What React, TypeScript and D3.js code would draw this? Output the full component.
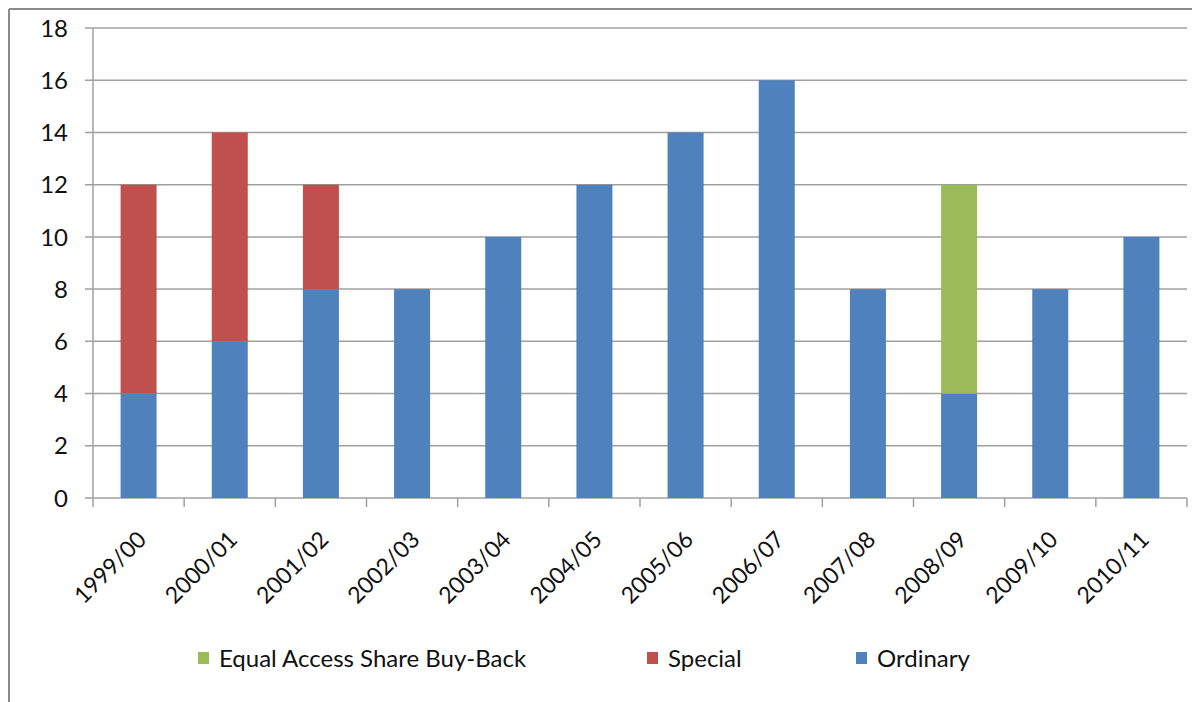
import React from "react";
import * as d3 from "d3";

const categories = [
  "1999/00", "2000/01", "2001/02", "2002/03", "2003/04", "2004/05",
  "2005/06", "2006/07", "2007/08", "2008/09", "2009/10", "2010/11",
];
const ordinary = [4, 6, 8, 8, 10, 12, 14, 16, 8, 4, 8, 10];
const special = [8, 8, 4, 0, 0, 0, 0, 0, 0, 0, 0, 0];
const buyBack = [0, 0, 0, 0, 0, 0, 0, 0, 0, 8, 0, 0];
const yTicks = [0, 2, 4, 6, 8, 10, 12, 14, 16, 18];

const seriesNames = ["Ordinary", "Special", "Equal Access Share Buy-Back"];
const colors: Record<string, string> = {
  Ordinary: "#4F81BD",
  Special: "#C0504D",
  "Equal Access Share Buy-Back": "#9BBB59",
};
const legendOrder = ["Equal Access Share Buy-Back", "Special", "Ordinary"];

const W = 1192;
const H = 702;
const margin = { left: 93, right: 5, top: 28, bottom: 204 };
const font = "Lato, 'Open Sans', sans-serif";

export default function App() {
  const table = categories.map((c, i) => ({
    cat: c,
    Ordinary: ordinary[i],
    Special: special[i],
    "Equal Access Share Buy-Back": buyBack[i],
  }));
  const stack = d3.stack<any>().keys(seriesNames)(table);

  // band scale for category slots, bars are ~40% of a slot
  const x = d3
    .scaleBand()
    .domain(categories)
    .range([margin.left, W - margin.right])
    .paddingInner(0)
    .paddingOuter(0);
  const y = d3
    .scaleLinear()
    .domain([0, 18])
    .range([H - margin.bottom, margin.top]);

  const x0 = margin.left;
  const x1 = W - margin.right;
  const step = x.step();
  const bw = step * 0.395;
  const center = (c: string) => (x(c) ?? 0) + step / 2;

  const legendX = [198, 647, 856];

  return (
    <svg
      width={W}
      height={H}
      style={{ position: "absolute", left: 0, top: 0, background: "#fff" }}
      fontFamily={font}
    >
      {/* frame */}
      <line x1={9} x2={W} y1={9} y2={9} stroke="#8a8a8a" strokeWidth={2} />
      <line x1={9} x2={9} y1={9} y2={H} stroke="#8a8a8a" strokeWidth={2} />

      {/* gridlines + y labels */}
      {yTicks.map((t) => (
        <g key={t}>
          <line x1={85} x2={x1} y1={y(t)} y2={y(t)} stroke="#a0a0a0" strokeWidth={1.5} />
          <text x={68} y={y(t)} dy="0.36em" textAnchor="end" fontSize={24} fill="#111">
            {t}
          </text>
        </g>
      ))}
      {/* y axis */}
      <line x1={x0} x2={x0} y1={y(18)} y2={y(0) + 9} stroke="#a0a0a0" strokeWidth={1.5} />
      {/* category ticks */}
      {categories.map((c) => (
        <line
          key={c}
          x1={(x(c) ?? 0) + step}
          x2={(x(c) ?? 0) + step}
          y1={y(0)}
          y2={y(0) + 9}
          stroke="#a0a0a0"
          strokeWidth={1.5}
        />
      ))}

      {/* bars */}
      {stack.map((s) =>
        s.map((d, i) =>
          d[1] - d[0] > 0 ? (
            <rect
              key={s.key + i}
              x={center(categories[i]) - bw / 2}
              y={y(d[1])}
              width={bw}
              height={y(d[0]) - y(d[1])}
              fill={colors[s.key]}
            />
          ) : null
        )
      )}

      {/* x labels */}
      {categories.map((c) => (
        <text
          key={c}
          transform={`translate(${center(c) + 9},${y(0) + 43}) rotate(-45)`}
          textAnchor="end"
          fontSize={23}
          fill="#111"
        >
          {c}
        </text>
      ))}

      {/* legend */}
      {legendOrder.map((k, i) => (
        <g key={k} transform={`translate(${legendX[i]},658)`}>
          <rect x={0} y={-6} width={11} height={12} fill={colors[k]} />
          <text x={21} y={0} dy="0.36em" fontSize={24} fill="#111">
            {k}
          </text>
        </g>
      ))}
    </svg>
  );
}
